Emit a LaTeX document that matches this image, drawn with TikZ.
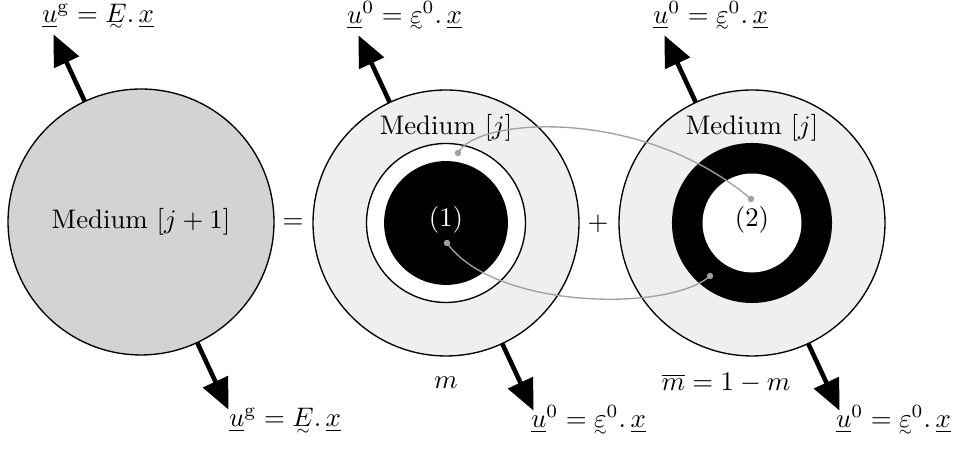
\documentclass[tikz,border=0pt]{standalone}
\usepackage{amsmath}
\usetikzlibrary{arrows.meta,calc}
\definecolor{fillA}{HTML}{D3D3D3}
\definecolor{fillB}{HTML}{EFEFEF}
\definecolor{linkgray}{HTML}{A0A0A0}
\makeatletter
\newcommand{\tl}[1]{\mathord{\ooalign{$#1$\cr\hidewidth\raisebox{-2.8pt}{$\scriptscriptstyle\sim$}\hidewidth\cr}}}
\makeatother
\begin{document}
\begin{tikzpicture}[x=0.373pt,y=0.373pt,
  medium/.style={circle, draw=black, line width=0.5pt, inner sep=0pt, outer sep=0pt},
  disk/.style={circle, inner sep=0pt, outer sep=0pt},
  bigarrow/.style={line width=1.7pt, -{Triangle[length=11.5pt,width=10pt]}},
  link/.style={draw=linkgray, line width=0.5pt},
  dot/.style={circle, fill=linkgray, inner sep=0pt, minimum size=2.4pt},
  lab/.style={inner sep=0pt}]
\useasboundingbox (0,0) rectangle (956,450);

% circles
\node[medium, fill=fillA, minimum size=99.2pt] (c1) at (141,228) {};
\node[lab] (l1) at (141,228) {Medium $[j+1]$};

\node[medium, fill=fillB, minimum size=99.2pt] (c2) at (446,227) {};
\node[medium, fill=white, minimum size=59.3pt] (w2) at (446,227) {};
\node[disk, fill=black, minimum size=46.2pt] (b2) at (446,227) {};
\node[lab, text=white] (p1) at (446,230) {(1)};
\node[lab] (m2) at (446,322) {Medium $[j]$};

\node[medium, fill=fillB, minimum size=99.2pt] (c3) at (752,227) {};
\node[disk, fill=black, minimum size=59.7pt] (b3) at (752,227) {};
\node[disk, fill=white, minimum size=36.9pt] (w3) at (752,227) {};
\node[lab] (p2) at (752,230) {(2)};
\node[lab] (m3) at (752,322) {Medium $[j]$};

% operators
\node[lab] (eq) at (293,226) {$=$};
\node[lab] (plus) at (598,226) {$+$};

% fractions
\node[lab] (fm) at (446,67) {$m$};
\node[lab] (fmb) at (726,67) {$\overline{m} = 1 - m$};

% connectors
\node[dot] (d1) at (458,297) {};
\node[dot] (d2) at (751,251) {};
\node[dot] (d3) at (447,207) {};
\node[dot] (d4) at (710,174) {};
\draw[link] (d1.center) .. controls (475,332) and (640,345) .. (d2.center);
\draw[link] (d3.center) .. controls (495,140) and (670,138) .. (d4.center);

% arrows
\foreach \c in {c1,c2,c3}{
  \coordinate (\c-tt) at ($(\c.115)+(115:74)$);
  \coordinate (\c-tb) at ($(\c.-65)+(-65:74)$);
  \draw[bigarrow] (\c.115) -- (\c-tt);
  \draw[bigarrow] (\c.-65) -- (\c-tb);
}

% boundary conditions
\node[lab, anchor=base west] (u1t) at ($(c1-tt)+(-12,12)$) {$\underline{u}^{\mathrm{g}} = \tl{E}.\,\underline{x}$};
\node[lab, anchor=base west] (u1b) at ($(c1-tb)+(0,-17)$) {$\underline{u}^{\mathrm{g}} = \tl{E}.\,\underline{x}$};
\node[lab, anchor=base west] (u2t) at ($(c2-tt)+(-12,12)$) {$\underline{u}^{0} = \tl{\varepsilon}^{0}.\,\underline{x}$};
\node[lab, anchor=base west] (u2b) at ($(c2-tb)+(-3,-17)$) {$\underline{u}^{0} = \tl{\varepsilon}^{0}.\,\underline{x}$};
\node[lab, anchor=base west] (u3t) at ($(c3-tt)+(-12,12)$) {$\underline{u}^{0} = \tl{\varepsilon}^{0}.\,\underline{x}$};
\node[lab, anchor=base west] (u3b) at ($(c3-tb)+(-4,-17)$) {$\underline{u}^{0} = \tl{\varepsilon}^{0}.\,\underline{x}$};
\end{tikzpicture}
\end{document}
